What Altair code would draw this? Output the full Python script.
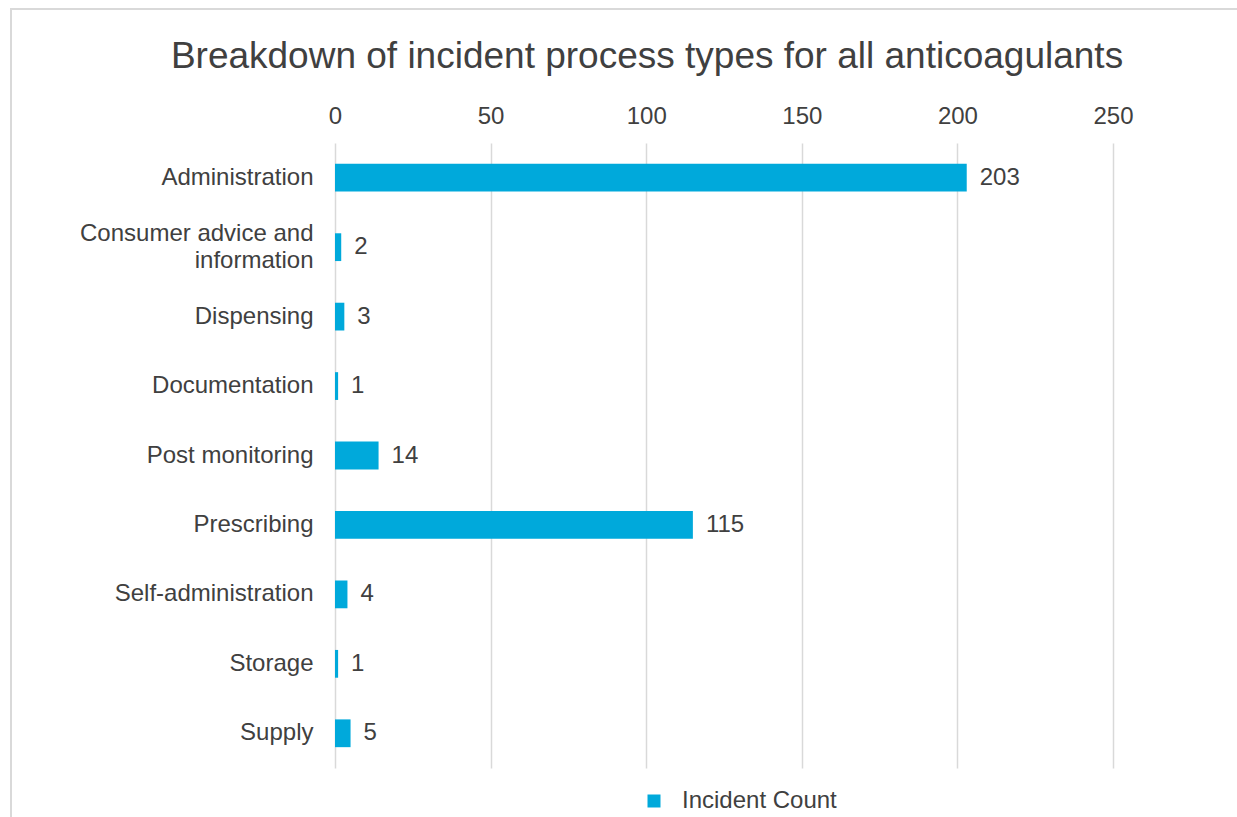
import altair as alt
import pandas as pd

# Incident counts by process type
categories = [
    "Administration",
    "Consumer advice and information",
    "Dispensing",
    "Documentation",
    "Post monitoring",
    "Prescribing",
    "Self-administration",
    "Storage",
    "Supply",
]
counts = [203, 2, 3, 1, 14, 115, 4, 1, 5]
series_name = "Incident Count"
x_ticks = [0, 50, 100, 150, 200, 250]
chart_title = "Breakdown of incident process types for all anticoagulants"

df = pd.DataFrame({"process": categories, "count": counts, "series": series_name})

BAR = "#00A9DB"
TXT = "#404040"
GRID = "#D9D9D9"
FONT = "Liberation Sans"

W, H = 778, 625
LEFT, TOP = 335, 143

WRAPPED = "Consumer advice and information"

base = alt.Chart(df)

bars = base.mark_bar(color=BAR).encode(
    x=alt.X(
        "count:Q",
        scale=alt.Scale(domain=[0, 250], nice=False),
        axis=alt.Axis(
            orient="top",
            values=x_ticks,
            title=None,
            grid=True,
            gridColor=GRID,
            gridWidth=1.5,
            domain=False,
            ticks=False,
            labelFlush=False,
            labelPadding=15,
            labelFontSize=24,
            labelColor=TXT,
            labelFont=FONT,
        ),
    ),
    y=alt.Y(
        "process:N",
        sort=categories,
        scale=alt.Scale(paddingInner=0.6, paddingOuter=0.3),
        axis=alt.Axis(
            title=None,
            domain=False,
            ticks=False,
            grid=False,
            labelPadding=22,
            labelFontSize=24,
            labelColor=TXT,
            labelFont=FONT,
            labelLineHeight=27,
            labelLimit=400,
            labelOffset={
                "condition": {"test": f"datum.label == '{WRAPPED}'", "value": -13.5},
                "value": 0,
            },
            labelExpr=f"datum.label == '{WRAPPED}' ? ['Consumer advice and', 'information'] : datum.label",
        ),
    ),
    color=alt.Color(
        "series:N",
        scale=alt.Scale(range=[BAR]),
        legend=alt.Legend(
            title=None,
            orient="none",
            legendX=642 - LEFT,
            legendY=789 - TOP,
            symbolType="square",
            symbolSize=169,
            symbolStrokeWidth=0,
            labelFontSize=24,
            labelColor=TXT,
            labelFont=FONT,
            labelOffset=16,
        ),
    ),
)

labels = base.mark_text(
    align="left", baseline="middle", dx=13, fontSize=24, color=TXT, font=FONT
).encode(
    x="count:Q",
    y=alt.Y("process:N", sort=categories),
    text="count:Q",
)

# chart heading
heading = alt.Chart(pd.DataFrame({"t": [chart_title]})).mark_text(
    align="center", baseline="alphabetic", fontSize=37, color=TXT, font=FONT
).encode(
    x=alt.value(647 - LEFT),
    y=alt.value(68 - TOP),
    text="t:N",
)

# light frame around the whole figure: a top edge and a left edge
one = pd.DataFrame({"k": [0]})
frame_top = alt.Chart(one).mark_rule(color=GRID, strokeWidth=2).encode(
    x=alt.value(10 - LEFT),
    x2=alt.value(1240 - LEFT),
    y=alt.value(9 - TOP),
)
frame_left = alt.Chart(one).mark_rule(color=GRID, strokeWidth=2).encode(
    x=alt.value(11 - LEFT),
    y=alt.value(8 - TOP),
    y2=alt.value(830 - TOP),
)

chart = (
    alt.layer(frame_top, frame_left, heading, bars, labels)
    .properties(
        width=W,
        height=H,
        background="white",
        padding={"left": LEFT, "top": TOP, "right": 1237 - LEFT - W, "bottom": 817 - TOP - H},
        autosize=alt.AutoSizeParams(type="none"),
    )
    .configure_view(strokeWidth=0)
    .configure_axis(domain=False, ticks=False)
)

chart.save("out.html", embed_options={"renderer": "svg", "actions": False})
